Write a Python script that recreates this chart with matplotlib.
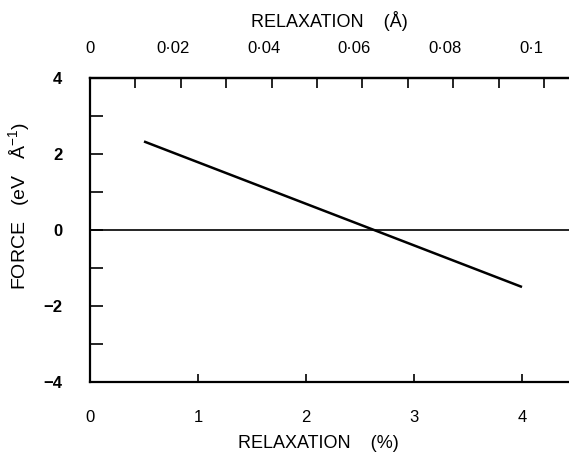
import matplotlib
matplotlib.use("Agg")
import matplotlib.pyplot as plt
from matplotlib.transforms import ScaledTranslation

# --- datos ---
relax_pct = [0.5, 2.63, 4.0]
force = [2.33, 0.0, -1.5]
x_ticks = [0, 1, 2, 3, 4]
y_ticks = [-4, -3, -2, -1, 0, 1, 2, 3, 4]
y_labels = ["\u22124", "", "\u22122", "", "0", "", "2", "", "4"]
top_ticks = [0, 0.01, 0.02, 0.03, 0.04, 0.05, 0.06, 0.07, 0.08, 0.09, 0.1]
top_labels = ["0", "", "0\u00b702", "", "0\u00b704", "", "0\u00b706", "", "0\u00b708", "", "0\u00b71"]
ANG_PER_PCT = 0.02379  # 1 % de relajacion en Angstrom

plt.rcParams['font.family'] = ['Liberation Sans', 'DejaVu Sans']
plt.rcParams['mathtext.fontset'] = 'custom'
plt.rcParams['mathtext.rm'] = 'Liberation Sans'

fig = plt.figure(figsize=(5.69, 4.58), dpi=100)
ax = fig.add_axes([90 / 569, 76 / 458, 479 / 569, 304 / 458])

ax.axhline(0, color='black', lw=1.2)
ax.plot(relax_pct, force, color='black', lw=1.8, solid_capstyle='butt')

ax.set_xlim(0, 4.435)
ax.set_ylim(-4, 4)
ax.spines['right'].set_visible(False)
for s in ['left', 'top', 'bottom']:
    ax.spines[s].set_linewidth(1.6)

ax.set_xticks(x_ticks)
ax.set_yticks(y_ticks)
ax.set_yticklabels(y_labels)
ax.tick_params(axis='x', direction='in', length=6, width=1.2, labelsize=12, pad=20)
ax.tick_params(axis='y', direction='in', length=9, width=1.2, labelsize=12, pad=20)
for lab in ax.get_yticklabels():
    lab.set_fontweight('bold')

ax.set_xlabel("RELAXATION    (%)", fontsize=13)
ax.xaxis.set_label_coords(0.476, -0.175)
ax.set_ylabel("FORCE   (eV   \u00c5$^{-1}$)", fontsize=14)
ax.yaxis.set_label_coords(-0.118, 0.58)

# eje superior en Angstrom
sec = ax.secondary_xaxis('top', functions=(lambda x: x * ANG_PER_PCT,
                                           lambda a: a / ANG_PER_PCT))
sec.set_xticks(top_ticks)
sec.set_xticklabels(top_labels)
sec.spines['top'].set_linewidth(1.6)
sec.tick_params(axis='x', direction='in', length=7, width=1.2, labelsize=12, pad=16)
sec.set_xlabel("RELAXATION    (\u00c5)", fontsize=13, labelpad=10)

# las etiquetas del original estan algo desplazadas a la izquierda
for i, lab in enumerate(sec.get_xticklabels()):
    if i > 0:
        dx = -8 if i < 10 else -13
        lab.set_transform(lab.get_transform() + ScaledTranslation(dx / 100, 0, fig.dpi_scale_trans))

fig.savefig("out.png", dpi=100)
